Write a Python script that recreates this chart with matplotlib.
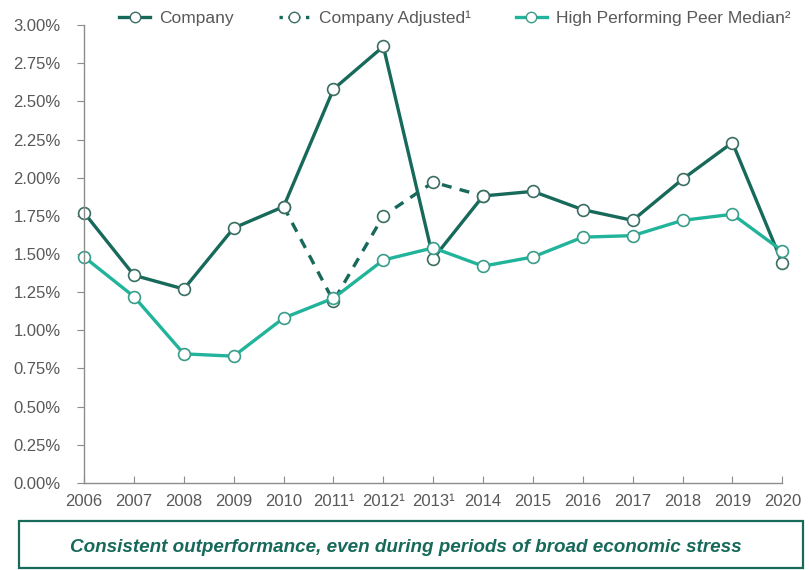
import numpy as np
import matplotlib as mpl
import matplotlib.pyplot as plt
from matplotlib.lines import Line2D
from matplotlib.patches import Rectangle
from matplotlib.ticker import PercentFormatter

dark = '#17695a'
light = '#22b39b'
grey = '#595959'

mpl.rcParams['font.family'] = 'Liberation Sans'
mpl.rcParams['font.size'] = 12
mpl.rcParams['axes.spines.right'] = False
mpl.rcParams['axes.spines.top'] = False

years = np.arange(2006, 2021)
year_labels = ['2006', '2007', '2008', '2009', '2010', '2011¹', '2012¹', '2013¹',
               '2014', '2015', '2016', '2017', '2018', '2019', '2020']

company = [1.77, 1.36, 1.27, 1.67, 1.81, 2.58, 2.86, 1.47,
           1.88, 1.91, 1.79, 1.72, 1.99, 2.23, 1.44]
adj_years = [2010, 2011, 2012, 2013, 2014]
company_adjusted = [1.81, 1.19, 1.75, 1.97, 1.88]
peer_median = [1.48, 1.22, 0.845, 0.83, 1.08, 1.21, 1.46, 1.54,
               1.42, 1.48, 1.61, 1.62, 1.72, 1.76, 1.52]

fig = plt.figure(figsize=(8.09, 5.70), dpi=100)
ax = fig.add_axes([0.104, 0.153, 0.863, 0.803])

mk = dict(marker='o', markersize=8.5, markerfacecolor='white', markeredgewidth=1.2,
          clip_on=False)
ax.plot(adj_years, company_adjusted, color=dark, lw=2.4, linestyle=(0, (3, 2.5)),
        markeredgecolor='#3b6e63', **mk)
ax.plot(years, company, color=dark, lw=2.4, markeredgecolor='#3b6e63', **mk)
ax.plot(years, peer_median, color=light, lw=2.4, markeredgecolor='#3a9c8a', **mk)

ax.set_xlim(2006, 2020)
ax.set_ylim(0, 3.0)
ax.set_yticks(np.arange(0, 3.01, 0.25))
ax.yaxis.set_major_formatter(PercentFormatter(decimals=2))
ax.set_xticks(years)
ax.set_xticklabels(year_labels)

for side in ['left', 'bottom']:
    ax.spines[side].set_color('#8c8c8c')
    ax.spines[side].set_linewidth(1)
ax.tick_params(axis='y', direction='out', length=5, color='#8c8c8c',
               labelcolor=grey, labelsize=12, pad=12)
ax.tick_params(axis='x', direction='in', length=5, color='#8c8c8c',
               labelcolor=grey, labelsize=12, pad=8)

# legend with proxy handles (dotted line for the adjusted series)
handles = [
    Line2D([], [], color=dark, lw=2.4, marker='o', markersize=7.5,
           markerfacecolor='white', markeredgecolor='#3b6e63'),
    Line2D([], [], color=dark, lw=2.4, linestyle=':', marker='o', markersize=7.5,
           markerfacecolor='white', markeredgecolor='#3b6e63'),
    Line2D([], [], color=light, lw=2.4, marker='o', markersize=7.5,
           markerfacecolor='white', markeredgecolor='#3a9c8a'),
]
labels = ['Company', 'Company Adjusted¹', 'High Performing Peer Median²']
fig.legend(handles, labels, loc='center', bbox_to_anchor=(0.562, 0.968), ncol=3,
           frameon=False, handlelength=1.8, columnspacing=2.6, handletextpad=0.5,
           labelcolor=grey, fontsize=12.5)

# takeaway box under the chart
fig.patches.append(Rectangle((0.023, 0.004), 0.969, 0.082, transform=fig.transFigure,
                             fill=False, edgecolor=dark, linewidth=1.6))
fig.text(0.502, 0.039, 'Consistent outperformance, even during periods of broad economic stress',
         ha='center', va='center', color=dark, fontsize=13.6, fontweight='bold',
         fontstyle='italic')

plt.savefig('out.png', dpi=100)
